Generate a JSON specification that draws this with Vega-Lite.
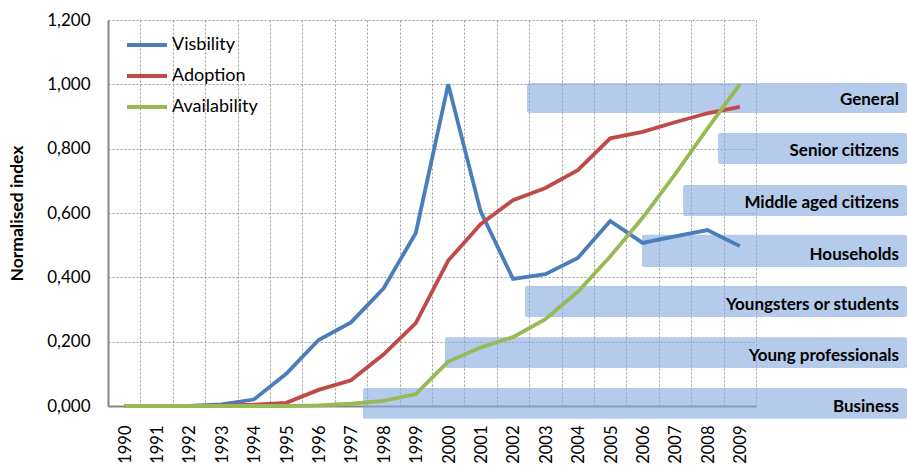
{
  "$schema": "https://vega.github.io/schema/vega-lite/v6.json",
  "autosize": {"type": "none"},
  "padding": {"left": 108, "top": 20, "right": 151, "bottom": 60},
  "width": 648,
  "height": 386,
  "background": "white",
  "config": {
    "font": "Lato",
    "view": {"stroke": null},
    "axis": {"labelFont": "Lato", "titleFont": "Lato", "labelColor": "#000", "titleColor": "#000", "labelOverlap": false},
    "axisX": {
      "labelExpr": "datum.value < 2009 ? format(datum.value + 0.5, 'd') : ''",
      "labelOffset": 17,
      "labelAngle": -90,
      "labelAlign": "right",
      "labelBaseline": "middle",
      "labelFontSize": 16.5,
      "labelPadding": 19,
      "labelOverlap": false,
      "labelBound": false,
      "labelFlush": false,
      "ticks": false,
      "grid": true,
      "gridColor": "#9a9a9a",
      "gridDash": [2, 2],
      "gridWidth": 1,
      "domainColor": "#868686",
      "domainWidth": 2
    },
    "axisY": {
      "labelExpr": "replace(format(datum.value, '.3f'), '.', ',')",
      "labelFontSize": 17,
      "labelPadding": 18,
      "labelOverlap": false,
      "ticks": false,
      "grid": true,
      "gridColor": "#9a9a9a",
      "gridDash": [2, 2],
      "gridWidth": 1,
      "domainColor": "#868686",
      "domainWidth": 2,
      "titleFontSize": 17.5,
      "titleFontWeight": "bold",
      "titlePadding": 20
    }
  },
  "datasets": {
    "series": [
      {"year": 1990, "series": "Visbility", "value": 0},
      {"year": 1991, "series": "Visbility", "value": 0},
      {"year": 1992, "series": "Visbility", "value": 0},
      {"year": 1993, "series": "Visbility", "value": 0.005},
      {"year": 1994, "series": "Visbility", "value": 0.02},
      {"year": 1995, "series": "Visbility", "value": 0.1},
      {"year": 1996, "series": "Visbility", "value": 0.205},
      {"year": 1997, "series": "Visbility", "value": 0.26},
      {"year": 1998, "series": "Visbility", "value": 0.365},
      {"year": 1999, "series": "Visbility", "value": 0.538},
      {"year": 2000, "series": "Visbility", "value": 1.0},
      {"year": 2001, "series": "Visbility", "value": 0.605},
      {"year": 2002, "series": "Visbility", "value": 0.395},
      {"year": 2003, "series": "Visbility", "value": 0.41},
      {"year": 2004, "series": "Visbility", "value": 0.46},
      {"year": 2005, "series": "Visbility", "value": 0.575},
      {"year": 2006, "series": "Visbility", "value": 0.507},
      {"year": 2007, "series": "Visbility", "value": 0.527},
      {"year": 2008, "series": "Visbility", "value": 0.547},
      {"year": 2009, "series": "Visbility", "value": 0.497},
      {"year": 1990, "series": "Adoption", "value": 0},
      {"year": 1991, "series": "Adoption", "value": 0},
      {"year": 1992, "series": "Adoption", "value": 0},
      {"year": 1993, "series": "Adoption", "value": 0.001},
      {"year": 1994, "series": "Adoption", "value": 0.004},
      {"year": 1995, "series": "Adoption", "value": 0.01},
      {"year": 1996, "series": "Adoption", "value": 0.05},
      {"year": 1997, "series": "Adoption", "value": 0.08},
      {"year": 1998, "series": "Adoption", "value": 0.16},
      {"year": 1999, "series": "Adoption", "value": 0.258},
      {"year": 2000, "series": "Adoption", "value": 0.452},
      {"year": 2001, "series": "Adoption", "value": 0.565},
      {"year": 2002, "series": "Adoption", "value": 0.64},
      {"year": 2003, "series": "Adoption", "value": 0.678},
      {"year": 2004, "series": "Adoption", "value": 0.733},
      {"year": 2005, "series": "Adoption", "value": 0.832},
      {"year": 2006, "series": "Adoption", "value": 0.852},
      {"year": 2007, "series": "Adoption", "value": 0.882},
      {"year": 2008, "series": "Adoption", "value": 0.91},
      {"year": 2009, "series": "Adoption", "value": 0.93},
      {"year": 1990, "series": "Availability", "value": 0},
      {"year": 1991, "series": "Availability", "value": 0},
      {"year": 1992, "series": "Availability", "value": 0},
      {"year": 1993, "series": "Availability", "value": 0},
      {"year": 1994, "series": "Availability", "value": 0},
      {"year": 1995, "series": "Availability", "value": 0},
      {"year": 1996, "series": "Availability", "value": 0.002},
      {"year": 1997, "series": "Availability", "value": 0.007},
      {"year": 1998, "series": "Availability", "value": 0.016},
      {"year": 1999, "series": "Availability", "value": 0.037},
      {"year": 2000, "series": "Availability", "value": 0.138},
      {"year": 2001, "series": "Availability", "value": 0.182},
      {"year": 2002, "series": "Availability", "value": 0.214},
      {"year": 2003, "series": "Availability", "value": 0.27},
      {"year": 2004, "series": "Availability", "value": 0.355},
      {"year": 2005, "series": "Availability", "value": 0.465},
      {"year": 2006, "series": "Availability", "value": 0.585},
      {"year": 2007, "series": "Availability", "value": 0.72},
      {"year": 2008, "series": "Availability", "value": 0.862},
      {"year": 2009, "series": "Availability", "value": 1.0}
    ],
    "bands": [
      {"label": "General", "start": 2002.43, "end": 2014.16, "low": 0.911, "high": 1.004, "mid": 0.95},
      {"label": "Senior citizens", "start": 2008.33, "end": 2014.16, "low": 0.752, "high": 0.849, "mid": 0.792},
      {"label": "Middle aged citizens", "start": 2007.25, "end": 2014.16, "low": 0.591, "high": 0.687, "mid": 0.63},
      {"label": "Households", "start": 2005.98, "end": 2014.16, "low": 0.432, "high": 0.532, "mid": 0.47},
      {"label": "Youngsters or students", "start": 2002.37, "end": 2014.16, "low": 0.277, "high": 0.373, "mid": 0.313},
      {"label": "Young professionals", "start": 1999.9, "end": 2014.16, "low": 0.118, "high": 0.214, "mid": 0.155},
      {"label": "Business", "start": 1997.37, "end": 2014.16, "low": -0.04, "high": 0.056, "mid": -0.002}
    ]
  },
  "layer": [
    {
      "data": {"name": "bands"},
      "mark": {"type": "rect", "fill": "#86abde", "opacity": 0.62, "cornerRadius": 2},
      "encoding": {
        "x": {"field": "start", "type": "quantitative", "scale": {"domain": [1989.5, 2009.5], "nice": false, "zero": false}, "title": null,
          "axis": {"values": [1989.5, 1990.5, 1991.5, 1992.5, 1993.5, 1994.5, 1995.5, 1996.5, 1997.5, 1998.5, 1999.5, 2000.5, 2001.5, 2002.5, 2003.5, 2004.5, 2005.5, 2006.5, 2007.5, 2008.5, 2009.5]}},
        "x2": {"field": "end"},
        "y": {"field": "low", "type": "quantitative", "scale": {"domain": [0, 1.2], "nice": false}, "title": "Normalised index",
          "axis": {"values": [0, 0.2, 0.4, 0.6, 0.8, 1.0, 1.2]}},
        "y2": {"field": "high"}
      }
    },
    {
      "data": {"name": "series"},
      "mark": {"type": "line", "strokeWidth": 3.8, "strokeJoin": "miter"},
      "encoding": {
        "x": {"field": "year", "type": "quantitative", "title": null,
          "axis": {"values": [1989.5, 1990.5, 1991.5, 1992.5, 1993.5, 1994.5, 1995.5, 1996.5, 1997.5, 1998.5, 1999.5, 2000.5, 2001.5, 2002.5, 2003.5, 2004.5, 2005.5, 2006.5, 2007.5, 2008.5, 2009.5]}},
        "y": {"field": "value", "type": "quantitative", "title": "Normalised index",
          "axis": {"values": [0, 0.2, 0.4, 0.6, 0.8, 1.0, 1.2]}},
        "color": {
          "field": "series",
          "type": "nominal",
          "scale": {"domain": ["Visbility", "Adoption", "Availability"], "range": ["#4a7ebb", "#be4b48", "#98b954"]},
          "legend": {
            "orient": "none",
            "legendX": 17,
            "legendY": 3,
            "title": null,
            "symbolType": "stroke",
            "symbolSize": 1600,
            "symbolStrokeWidth": 4,
            "labelFontSize": 18,
            "labelFont": "Lato",
            "labelOffset": 3,
            "rowPadding": -10
          }
        }
      }
    },
    {
      "data": {"name": "bands"},
      "mark": {"type": "text", "align": "right", "baseline": "middle", "dx": -8, "fontSize": 17, "fontWeight": "bold", "font": "Lato", "color": "#000"},
      "encoding": {
        "x": {"field": "end", "type": "quantitative", "title": null,
          "axis": {"values": [1989.5, 1990.5, 1991.5, 1992.5, 1993.5, 1994.5, 1995.5, 1996.5, 1997.5, 1998.5, 1999.5, 2000.5, 2001.5, 2002.5, 2003.5, 2004.5, 2005.5, 2006.5, 2007.5, 2008.5, 2009.5]}},
        "y": {"field": "mid", "type": "quantitative", "title": "Normalised index",
          "axis": {"values": [0, 0.2, 0.4, 0.6, 0.8, 1.0, 1.2]}},
        "text": {"field": "label", "type": "nominal"}
      }
    }
  ]
}
